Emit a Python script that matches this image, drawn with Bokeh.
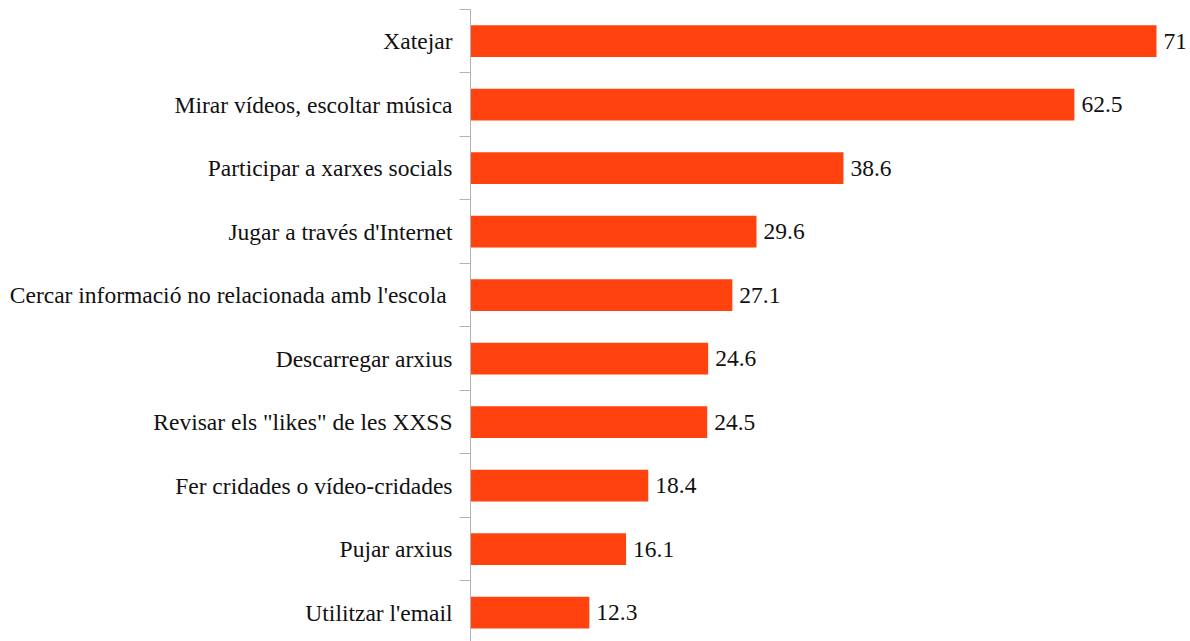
from bokeh.plotting import figure
from bokeh.models import ColumnDataSource, FixedTicker, Range1d
from bokeh.core.properties import value
from bokeh.embed import file_html
from bokeh.resources import INLINE

categories = [
    "Xatejar",
    "Mirar vídeos, escoltar música",
    "Participar a xarxes socials",
    "Jugar a través d'Internet",
    "Cercar informació no  relacionada amb l'escola",
    "Descarregar arxius",
    "Revisar els \"likes\" de les XXSS",
    "Fer cridades o vídeo-cridades",
    "Pujar arxius",
    "Utilitzar l'email",
]
values = [71, 62.5, 38.6, 29.6, 27.1, 24.6, 24.5, 18.4, 16.1, 12.3]

n = len(categories)
pos = [n - 1 - i for i in range(n)]
labels = [("%g" % v) for v in values]

src = ColumnDataSource(dict(y=pos, v=values, lab=labels))

p = figure(width=1190, height=641, output_backend="svg", toolbar_location=None,
           x_range=Range1d(0, 74.0), y_range=Range1d(-0.453, n - 0.5),
           x_axis_location=None, min_border_left=470, min_border_right=5,
           min_border_top=9, min_border_bottom=0)
p.outline_line_color = None
p.xgrid.visible = False
p.ygrid.visible = False
p.background_fill_color = "white"

p.hbar(y="y", right="v", left=0, height=0.5, source=src,
       fill_color="#ff420e", line_color=None)
p.text(x="v", y="y", text="lab", source=src, x_offset=7,
       text_align="left", text_baseline="middle",
       text_font=value("Liberation Serif"), text_font_size="23.5px",
       text_color="#111111")

ax = p.yaxis[0]
ax.ticker = FixedTicker(ticks=pos, minor_ticks=[k - 0.5 for k in range(n + 1)])
ax.major_label_overrides = {pp: c for pp, c in zip(pos, categories)}
ax.major_tick_out = 0
ax.major_tick_in = 0
ax.minor_tick_out = 11
ax.minor_tick_in = 0
ax.minor_tick_line_color = "#b3b3b3"
ax.axis_line_color = "#b3b3b3"
ax.axis_line_width = 1
ax.major_label_standoff = 7
ax.major_label_text_font = "Liberation Serif"
ax.major_label_text_font_size = "23.5px"
ax.major_label_text_color = "#111111"

open("out.html", "w").write(file_html(p, INLINE))
